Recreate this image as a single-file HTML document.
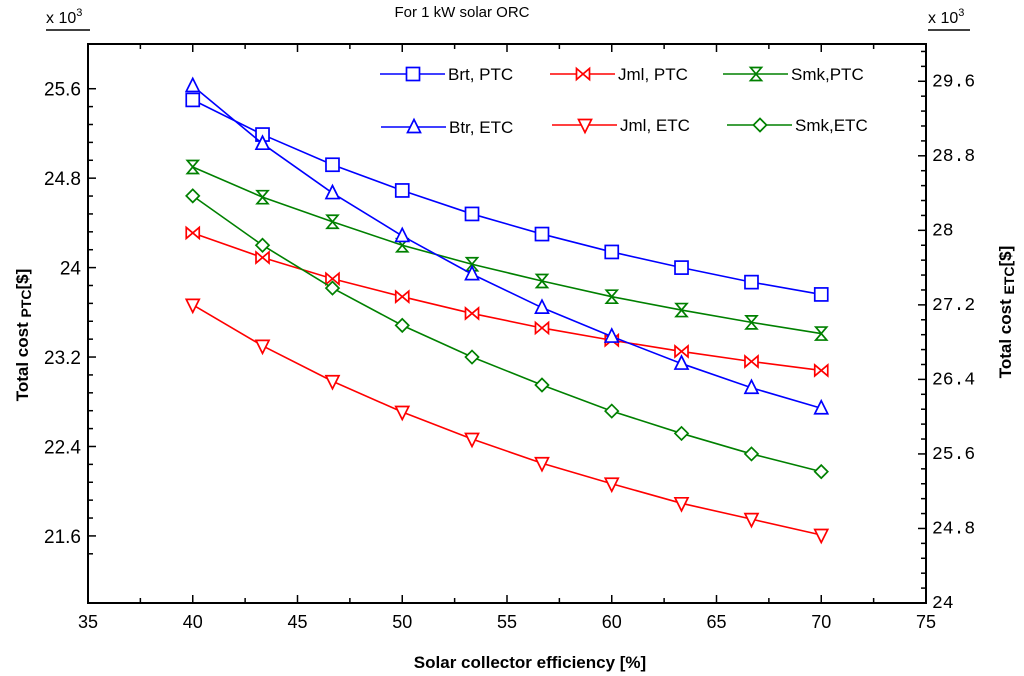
<!DOCTYPE html>
<html><head><meta charset="utf-8"><style>
html,body{margin:0;padding:0;background:#fff;}
svg{display:block;font-family:"Liberation Sans",Arial,sans-serif;}
</style></head><body>
<svg id="chart" width="1024" height="676" viewBox="0 0 1024 676">
<text x="462" y="17" font-size="15" text-anchor="middle">For 1 kW solar ORC</text>
<g id="axes"></g>
<g id="series"></g>
<g id="legend"></g>
<text x="28" y="335" font-size="17" font-weight="bold" transform="rotate(-90 28 335)" text-anchor="middle">Total cost <tspan font-size="14" dy="3">PTC</tspan><tspan dy="-3">[$]</tspan></text>
<text x="1011" y="312" font-size="17" font-weight="bold" transform="rotate(-90 1011 312)" text-anchor="middle">Total cost <tspan font-size="14" dy="3">ETC</tspan><tspan dy="-3">[$]</tspan></text>
<text x="530" y="668" font-size="17" font-weight="bold" text-anchor="middle">Solar collector efficiency [%]</text>
<g><text x="46" y="23" font-size="16">x 10<tspan font-size="11" dy="-7">3</tspan></text><line x1="46" y1="30" x2="90" y2="30" stroke="#000" stroke-width="1.5"/></g>
<g><text x="928" y="23" font-size="16">x 10<tspan font-size="11" dy="-7">3</tspan></text><line x1="928" y1="30" x2="970" y2="30" stroke="#000" stroke-width="1.5"/></g>
</svg>
<script>
const xValues=[40,43.33,46.67,50,53.33,56.67,60,63.33,66.67,70];
const brtPTC=[25.50,25.19,24.92,24.69,24.48,24.30,24.14,24.00,23.87,23.76];
const jmlPTC=[24.31,24.09,23.90,23.74,23.59,23.46,23.35,23.25,23.16,23.08];
const smkPTC=[24.90,24.63,24.41,24.20,24.03,23.88,23.74,23.62,23.51,23.41];
const btrETC=[29.55,28.93,28.40,27.94,27.53,27.17,26.86,26.57,26.31,26.09];
const jmlETC=[27.20,26.76,26.38,26.05,25.76,25.50,25.28,25.07,24.90,24.73];
const smkETC=[28.37,27.84,27.38,26.98,26.64,26.34,26.06,25.82,25.60,25.41];
const xTicks=[35,40,45,50,55,60,65,70,75];
const leftTicks=[21.6,22.4,23.2,24,24.8,25.6];
const leftTickLabels=["21.6","22.4","23.2","24","24.8","25.6"];
const rightTicks=[24,24.8,25.6,26.4,27.2,28,28.8,29.6];
const rightTickLabels=["24","24.8","25.6","26.4","27.2","28","28.8","29.6"];

const NS="http://www.w3.org/2000/svg";
const L=88,R=926,T=44,B=603;
const xs=v=>L+(v-35)/(75-35)*(R-L);
const yl=v=>B-(v-21)/(26-21)*(B-T);
const yr=v=>B-(v-24)/(30-24)*(B-T);
function mk(tag,attrs,parent){const e=document.createElementNS(NS,tag);for(const k in attrs)e.setAttribute(k,attrs[k]);parent.appendChild(e);return e;}
const axes=document.getElementById('axes');
const frame=mk('rect',{x:L,y:T,width:R-L,height:B-T,fill:'none',stroke:'#000','stroke-width':2},axes);


for(let v=35;v<=75.01;v+=2.5){const x=xs(v);const major=Math.abs(v%5)<0.01;const len=major?8:5;
 const t1=mk('line',{x1:x,y1:B,x2:x,y2:B-len,stroke:'#000','stroke-width':1.5},axes);
 
 
 const t2=mk('line',{x1:x,y1:T,x2:x,y2:T+len,stroke:'#000','stroke-width':1.5},axes);
 
 }
xTicks.forEach(v=>{const t=mk('text',{x:xs(v),y:B+25,'font-size':18,'text-anchor':'middle'},axes);t.textContent=v;
 
 });
for(let i=-1;i<=25;i++){const v=21.6+i*0.16;if(v<21||v>26.001)continue;const y=yl(v);const major=i%5===0;
 const t=mk('line',{x1:L,y1:y,x2:L+(major?8:5),y2:y,stroke:'#000','stroke-width':1.5},axes);
 
 }
leftTicks.forEach((v,i)=>{const t=mk('text',{x:L-7,y:yl(v)+7,'font-size':19,'text-anchor':'end'},axes);t.textContent=leftTickLabels[i];
 
 });
for(let i=0;i<=37;i++){const v=24+i*0.16;if(v>30.001)continue;const y=yr(v);const major=i%5===0;
 const t=mk('line',{x1:R,y1:y,x2:R-(major?8:5),y2:y,stroke:'#000','stroke-width':1.5},axes);
 
 }
rightTicks.forEach((v,i)=>{const t=mk('text',{x:R+6,y:yr(v)+5,'font-size':18,'font-family':'"Liberation Mono",monospace'},axes);t.textContent=rightTickLabels[i];
 
 });

function marker(g,type,x,y,c){const s=6.5;let e;
 if(type==='square')e=mk('rect',{x:x-s,y:y-s,width:2*s,height:2*s},g);
 else if(type==='up')e=mk('polygon',{points:`${x},${y-s-1} ${x-s},${y+s-1} ${x+s},${y+s-1}`},g);
 else if(type==='down')e=mk('polygon',{points:`${x},${y+s+1} ${x-s},${y-s+1} ${x+s},${y-s+1}`},g);
 else if(type==='diamond')e=mk('polygon',{points:`${x},${y-s} ${x+s},${y} ${x},${y+s} ${x-s},${y}`},g);
 else if(type==='bowtie')e=mk('polygon',{points:`${x-s},${y-s+1} ${x+s},${y+s-1} ${x+s},${y-s+1} ${x-s},${y+s-1}`},g);
 else if(type==='hourglass')e=mk('polygon',{points:`${x-s+1},${y-s} ${x+s-1},${y-s} ${x-s+1},${y+s} ${x+s-1},${y+s}`},g);
 e.setAttribute('fill','#fff');e.setAttribute('stroke',c);e.setAttribute('stroke-width',1.7);
 
 }
const seriesDefs=[
 {name:'brt-ptc',data:brtPTC,ax:yl,c:'#0000ff',m:'square'},
 {name:'jml-ptc',data:jmlPTC,ax:yl,c:'#ff0000',m:'bowtie'},
 {name:'smk-ptc',data:smkPTC,ax:yl,c:'#008000',m:'hourglass'},
 {name:'btr-etc',data:btrETC,ax:yr,c:'#0000ff',m:'up'},
 {name:'jml-etc',data:jmlETC,ax:yr,c:'#ff0000',m:'down'},
 {name:'smk-etc',data:smkETC,ax:yr,c:'#008000',m:'diamond'}];
const sg=document.getElementById('series');
seriesDefs.forEach(s=>{const g=mk('g',{},sg);
 
 
 const pts=s.data.map((v,i)=>xs(xValues[i])+','+s.ax(v)).join(' ');
 const pl=mk('polyline',{points:pts,fill:'none',stroke:s.c,'stroke-width':1.6},g);
 
 
 s.data.forEach((v,i)=>marker(g,s.m,xs(xValues[i]),s.ax(v),s.c));});
const lg=document.getElementById('legend');
const legendItems=[
 {t:'Brt, PTC',x:380,y:74,s:0},{t:'Jml, PTC',x:550,y:74,s:1},{t:'Smk,PTC',x:723,y:74,s:2},
 {t:'Btr, ETC',x:381,y:127,s:3},{t:'Jml, ETC',x:552,y:125,s:4},{t:'Smk,ETC',x:727,y:125,s:5}];
legendItems.forEach(it=>{const s=seriesDefs[it.s];const g=mk('g',{},lg);
 
 
 mk('line',{x1:it.x,y1:it.y,x2:it.x+65,y2:it.y,stroke:s.c,'stroke-width':1.6},g);
 marker(g,s.m,it.x+33,it.y,s.c);
 const t=mk('text',{x:it.x+68,y:it.y+6,'font-size':17},g);t.textContent=it.t;});
</script>
</body></html>
